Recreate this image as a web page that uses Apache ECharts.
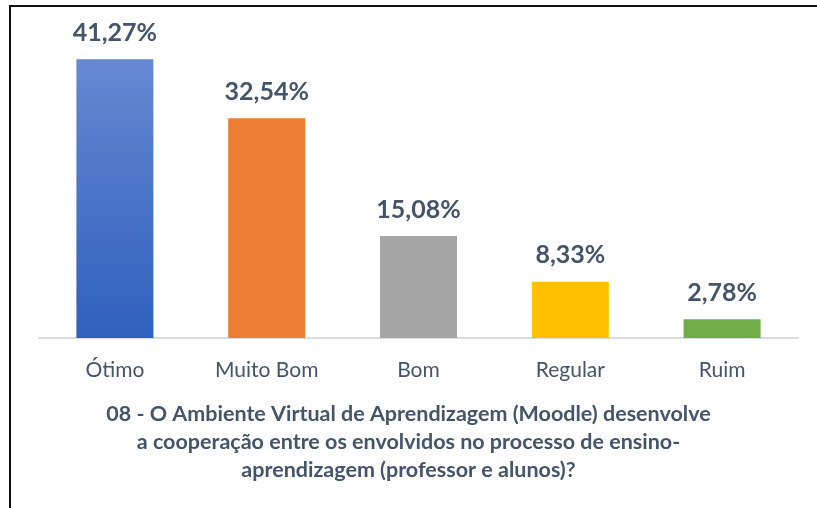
<!DOCTYPE html>
<html>
<head>
<meta charset="UTF-8" />
<title>Moodle - cooperação</title>
<style>
* { margin: 0; padding: 0; }
html, body { width: 817px; height: 508px; background: #fff; }
#chart { width: 817px; height: 508px; }
</style>
</head>
<body>
<div id="chart"></div>
<script src="https://cdn.jsdelivr.net/npm/echarts@6/dist/echarts.min.js"></script>
<script>
// dados
let categorias = ['Ótimo', 'Muito Bom', 'Bom', 'Regular', 'Ruim']
let valores = [41.27, 32.54, 15.08, 8.33, 2.78]
let cores = ['#2F62BE', '#ED7D31', '#A5A5A5', '#FFC000', '#70AD47']
let titulo = '08 - O Ambiente Virtual de Aprendizagem (Moodle) desenvolve\na cooperação entre os envolvidos no processo de ensino-\naprendizagem (professor e alunos)?'

let textColor = '#44546A'
let fonte = 'Lato, "Open Sans", sans-serif'

let chart = echarts.init(document.getElementById('chart'))

let dados = valores.map((v, i) => {
  let item = { value: v, itemStyle: { color: cores[i] } }
  if (i === 0) {
    // primeira barra tem um degradê azul
    item.itemStyle.color = new echarts.graphic.LinearGradient(0, 0, 0, 1, [
      { offset: 0, color: '#6689D1' },
      { offset: 1, color: '#2E60BD' }
    ])
  }
  return item
})

let option = {
  backgroundColor: '#ffffff',
  animation: false,
  title: {
    text: titulo,
    left: 'center',
    top: 395,
    textStyle: {
      color: textColor,
      fontFamily: fonte,
      fontSize: 21.5,
      fontWeight: 'bold',
      lineHeight: 28
    }
  },
  grid: { left: 39, right: 19, top: 36, bottom: 170 },
  xAxis: {
    type: 'category',
    data: categorias,
    axisLine: { lineStyle: { color: '#D9DDE3', width: 2 } },
    axisTick: { show: false },
    axisLabel: {
      color: textColor,
      fontFamily: fonte,
      fontSize: 21,
      margin: 22
    }
  },
  yAxis: {
    type: 'value',
    min: 0,
    max: 44.7,
    show: false
  },
  series: [
    {
      type: 'bar',
      barWidth: 77,
      data: dados,
      label: {
        show: true,
        position: 'top',
        distance: 14,
        color: textColor,
        fontFamily: fonte,
        fontSize: 25,
        fontWeight: 'bold',
        formatter: p => p.value.toFixed(2).replace('.', ',') + '%'
      }
    }
  ],
  graphic: [
    { type: 'line', shape: { x1: 10, y1: 5, x2: 10, y2: 508 }, style: { stroke: '#111', lineWidth: 2 } },
    { type: 'line', shape: { x1: 9, y1: 6, x2: 817, y2: 6 }, style: { stroke: '#111', lineWidth: 2 } }
  ]
}

chart.setOption(option)
</script>
</body>
</html>
